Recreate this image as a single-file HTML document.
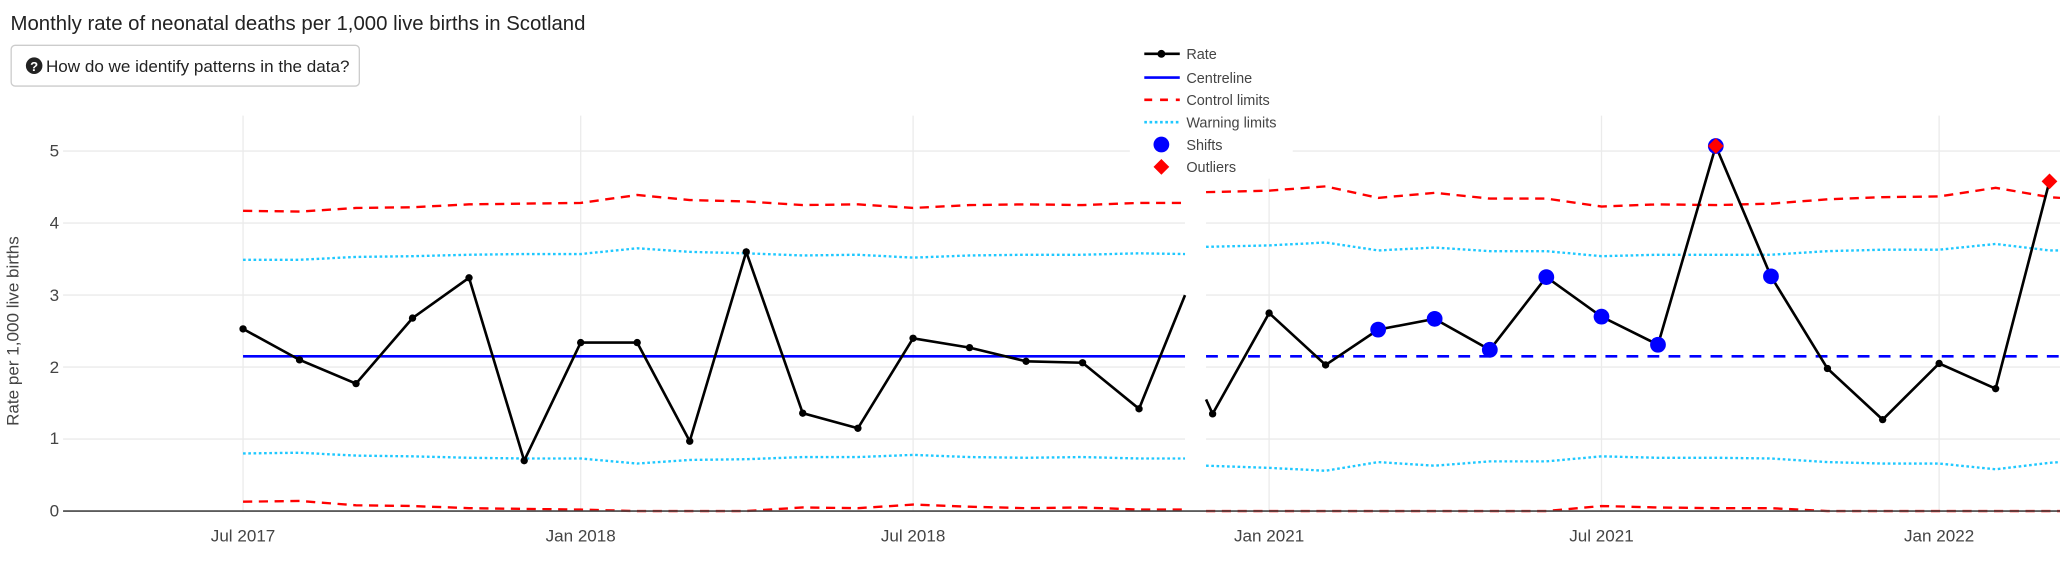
<!DOCTYPE html>
<html><head><meta charset="utf-8"><style>
html,body{margin:0;padding:0;background:#fff;overflow:hidden}
svg{display:block}
text{font-family:"Liberation Sans",sans-serif}
</style></head><body>
<svg id="s" width="2060" height="564" viewBox="0 0 1568 429.3" preserveAspectRatio="none" xmlns="http://www.w3.org/2000/svg">
<text x="8" y="23" font-size="15.5" fill="#222">Monthly rate of neonatal deaths per 1,000 live births in Scotland</text>
<rect x="8.5" y="34.5" width="265" height="31" rx="3" fill="#fff" stroke="#ccc"/>
<circle cx="26" cy="50" r="6.3" fill="#222"/>
<text x="26" y="54" font-size="10" fill="#fff" text-anchor="middle" font-weight="bold">?</text>
<text x="35" y="55" font-size="13" fill="#222">How do we identify patterns in the data?</text>
<g id="grid" stroke="#ebebeb" stroke-width="1"></g>
<g id="series"></g>
<line x1="48" y1="389" x2="1568" y2="389" stroke="#444" stroke-width="1.3"/>
<g font-size="13" fill="#444" text-anchor="end">
<text x="45" y="393">0</text><text x="45" y="338">1</text><text x="45" y="284">2</text><text x="45" y="229">3</text><text x="45" y="174">4</text><text x="45" y="119">5</text>
</g>
<g font-size="13" fill="#444" text-anchor="middle">
<text x="185" y="412">Jul 2017</text><text x="442" y="412">Jan 2018</text><text x="695" y="412">Jul 2018</text>
<text x="966" y="412">Jan 2021</text><text x="1219" y="412">Jul 2021</text><text x="1476" y="412">Jan 2022</text>
</g>
<text transform="translate(14,252) rotate(-90)" font-size="13" fill="#444" text-anchor="middle">Rate per 1,000 live births</text>
<rect x="860" y="32" width="124" height="104" fill="#fff"/>
<g font-size="11" fill="#444">
<line x1="871" y1="41" x2="898" y2="41" stroke="#000" stroke-width="2"/><circle cx="884" cy="41" r="3" fill="#000"/><text x="903" y="45">Rate</text>
<line x1="871" y1="59" x2="898" y2="59" stroke="#0000ff" stroke-width="2"/><text x="903" y="63">Centreline</text>
<line x1="871" y1="76" x2="898" y2="76" stroke="#f00" stroke-width="2" stroke-dasharray="6,6"/><text x="903" y="80">Control limits</text>
<line x1="871" y1="93" x2="898" y2="93" stroke="#1ec8ff" stroke-width="2" stroke-dasharray="2,2"/><text x="903" y="97">Warning limits</text>
<circle cx="884" cy="110" r="6" fill="#0000ff"/><text x="903" y="114">Shifts</text>
<path d="M884 121 L890 127 L884 133 L878 127Z" fill="#f00"/><text x="903" y="131">Outliers</text>
</g>
</svg>
<script>
var Y=v=>389-v*54.8, ns="http://www.w3.org/2000/svg";
var g=document.getElementById('grid'), S=document.getElementById('series');
function el(p,t,a){var e=document.createElementNS(ns,t);for(var k in a)e.setAttribute(k,a[k]);p.appendChild(e);return e;}
[1,2,3,4,5].forEach(v=>{el(g,'line',{x1:48,x2:902,y1:Y(v),y2:Y(v)});el(g,'line',{x1:918,x2:1568,y1:Y(v),y2:Y(v)});});
[185,442,695,966,1219,1476].forEach(x=>el(g,'line',{x1:x,x2:x,y1:88,y2:389}));
function pl(xs,vs,a){el(S,'polyline',Object.assign({points:xs.map((x,i)=>x+','+Y(vs[i])).join(' '),fill:'none'},a));}
var LX=[185,228,271,314,357,399,442,485,525,568,611,653,695,738,781,824,867,902];
var RX=[918,966,1009,1049,1092,1134,1177,1219,1262,1306,1348,1391,1433,1476,1519,1560,1568];
var cu={stroke:'#f00','stroke-width':1.8,'stroke-dasharray':'7,5'}, wa={stroke:'#1ec8ff','stroke-width':1.8,'stroke-dasharray':'2,2'};
pl(LX,[4.17,4.16,4.21,4.22,4.26,4.27,4.28,4.39,4.32,4.3,4.25,4.26,4.21,4.25,4.26,4.25,4.28,4.28],cu);
pl(LX,[0.13,0.14,0.08,0.07,0.04,0.03,0.02,0.0,0,0,0.05,0.04,0.09,0.06,0.04,0.05,0.02,0.02],cu);
pl(LX,[3.49,3.49,3.53,3.54,3.56,3.57,3.57,3.65,3.6,3.58,3.55,3.56,3.52,3.55,3.56,3.56,3.58,3.57],wa);
pl(LX,[0.8,0.81,0.77,0.76,0.74,0.73,0.73,0.66,0.71,0.72,0.75,0.75,0.78,0.75,0.74,0.75,0.73,0.73],wa);
pl(RX,[4.43,4.45,4.51,4.35,4.42,4.34,4.34,4.23,4.26,4.25,4.27,4.33,4.36,4.37,4.49,4.36,4.35],cu);
pl(RX,[0,0,0,0,0,0,0,0.07,0.05,0.04,0.04,0,0,0,0,0,0],cu);
pl(RX,[3.67,3.69,3.73,3.62,3.66,3.61,3.61,3.54,3.56,3.56,3.56,3.61,3.63,3.63,3.71,3.62,3.62],wa);
pl(RX,[0.63,0.6,0.56,0.68,0.63,0.69,0.69,0.76,0.74,0.74,0.73,0.68,0.66,0.66,0.58,0.67,0.68],wa);
el(S,'line',{x1:185,x2:902,y1:Y(2.15),y2:Y(2.15),stroke:'#0000ff','stroke-width':2});
el(S,'line',{x1:918,x2:1568,y1:Y(2.15),y2:Y(2.15),stroke:'#0000ff','stroke-width':2,'stroke-dasharray':'9,7'});
var lv=[2.53,2.1,1.77,2.68,3.24,0.7,2.34,2.34,0.97,3.6,1.36,1.15,2.4,2.27,2.08,2.06,1.42,3.0];
pl(LX,lv,{stroke:'#000','stroke-width':2});
LX.slice(0,17).forEach((x,i)=>el(S,'circle',{cx:x,cy:Y(lv[i]),r:2.8,fill:'#000'}));
var rx=[918,923,966,1009,1049,1092,1134,1177,1219,1262,1306,1348,1391,1433,1476,1519,1560];
var rv=[1.55,1.35,2.75,2.03,2.52,2.67,2.24,3.25,2.7,2.31,5.07,3.26,1.98,1.27,2.05,1.7,4.58];
pl(rx,rv,{stroke:'#000','stroke-width':2});
rx.slice(1).forEach((x,i)=>el(S,'circle',{cx:x,cy:Y(rv[i+1]),r:2.8,fill:'#000'}));
[4,5,6,7,8,9,10,11].forEach(i=>el(S,'circle',{cx:rx[i],cy:Y(rv[i]),r:6,fill:'#0000ff'}));
[10,16].forEach(i=>{var x=rx[i],y=Y(rv[i]);el(S,'path',{d:`M${x} ${y-6}L${x+6} ${y}L${x} ${y+6}L${x-6} ${y}Z`,fill:'#f00'});});
</script>
</body></html>
